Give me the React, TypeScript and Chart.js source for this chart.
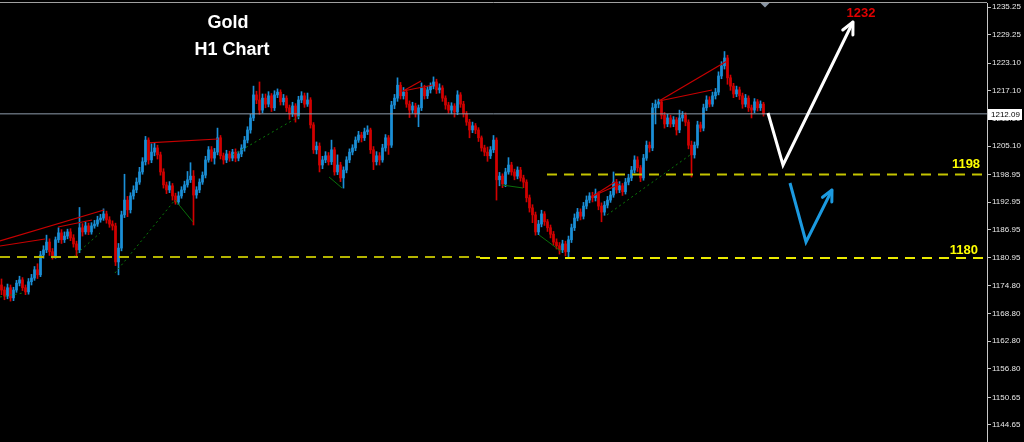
import React, { useEffect, useRef } from "react";
import { Chart, registerables } from "chart.js";

Chart.register(...registerables);

// ---------- Data (Gold, H1 candles) ----------
const FIRST_OPEN = 1175.0;

const CLOSE = [
  1173.9, 1172.6, 1174.4, 1172.2, 1173.9, 1175.4, 1176.1, 1174.4, 1173.5, 1175.7,
  1176.5, 1178.3, 1177.2, 1181.5, 1182.6, 1184.3, 1182.2, 1181.3, 1184.8, 1186.3,
  1184.8, 1185.6, 1186.5, 1185.2, 1183.9, 1182.6, 1187.4, 1186.5, 1187.8, 1186.5,
  1187.8, 1188.2, 1189.1, 1189.5, 1190.4, 1189.1, 1188.2, 1187.8, 1180.0, 1183.0,
  1190.2, 1193.4, 1191.3, 1194.3, 1195.6, 1197.3, 1199.5, 1201.7, 1206.4, 1202.1,
  1203.8, 1204.7, 1203.2, 1199.5, 1196.7, 1195.6, 1196.5, 1194.3, 1193.0, 1194.3,
  1195.6, 1196.7, 1197.8, 1198.6, 1194.5, 1195.6, 1197.3, 1198.8, 1202.1, 1204.3,
  1202.5, 1203.8, 1206.9, 1203.0, 1202.1, 1203.4, 1202.5, 1203.8, 1202.5, 1203.4,
  1204.7, 1206.4, 1208.6, 1211.2, 1216.2, 1215.1, 1212.9, 1215.5, 1214.2, 1216.0,
  1213.4, 1216.2, 1216.8, 1214.7, 1215.5, 1213.4, 1212.1, 1213.8, 1211.6, 1215.1,
  1216.0, 1214.2, 1215.1, 1209.7, 1204.3, 1205.1, 1201.0, 1202.1, 1203.0, 1201.7,
  1204.3, 1199.5, 1201.0, 1198.2, 1199.9, 1202.1, 1203.8, 1204.7, 1206.4, 1207.5,
  1206.9, 1208.2, 1208.6, 1204.3, 1201.7, 1203.0, 1202.1, 1204.7, 1206.9, 1205.3,
  1214.0, 1215.5, 1218.3, 1216.0, 1216.8, 1214.2, 1212.9, 1213.8, 1212.1, 1213.4,
  1217.7, 1216.0, 1217.3, 1218.1, 1219.0, 1217.3, 1217.7, 1215.5, 1214.0, 1212.9,
  1213.8, 1212.5, 1216.2, 1214.2, 1212.1, 1210.3, 1208.6, 1209.5, 1208.6, 1206.9,
  1204.7, 1203.8, 1203.0, 1204.3, 1206.4, 1197.8, 1198.6, 1196.9, 1199.5, 1201.0,
  1199.5, 1198.6, 1199.9, 1198.2, 1197.3, 1193.9, 1191.7, 1190.2, 1186.5, 1188.2,
  1190.4, 1188.7, 1187.4, 1186.0, 1184.3, 1183.5, 1182.6, 1183.9, 1182.2, 1184.8,
  1187.4, 1189.5, 1190.8, 1189.9, 1192.1, 1193.4, 1194.3, 1193.9, 1194.7, 1192.1,
  1190.8, 1192.3, 1193.4, 1194.5, 1197.3, 1195.6, 1196.5, 1195.2, 1197.3, 1198.2,
  1199.9, 1202.1, 1200.4, 1198.2, 1202.5, 1205.3, 1204.7, 1213.4, 1214.2, 1214.7,
  1211.8, 1209.9, 1211.2, 1209.9, 1210.8, 1208.6, 1211.2, 1211.8, 1210.3, 1205.3,
  1203.2, 1205.3, 1209.7, 1209.0, 1213.4, 1215.1, 1214.2, 1216.0, 1216.8, 1220.3,
  1222.5, 1224.2, 1219.9, 1218.1, 1216.4, 1217.3, 1216.0, 1214.2, 1215.5, 1213.4,
  1212.9, 1214.7, 1213.4, 1214.2, 1212.09,
];

const HIGH = [
  1176.3, 1174.6, 1175.2, 1175.0, 1174.5, 1176.0, 1176.9, 1176.6, 1175.0, 1176.4,
  1177.3, 1179.0, 1179.6, 1182.3, 1183.5, 1185.8, 1185.0, 1182.9, 1185.4, 1187.4,
  1187.0, 1186.5, 1187.1, 1187.2, 1185.9, 1184.5, 1191.8, 1188.3, 1188.6, 1188.4,
  1188.5, 1189.0, 1189.9, 1190.3, 1191.5, 1191.0, 1189.8, 1188.9, 1188.4, 1184.0,
  1191.0, 1199.0, 1194.2, 1195.0, 1196.5, 1198.2, 1200.5, 1202.6, 1207.2, 1206.9,
  1205.6, 1205.9, 1205.3, 1203.8, 1200.2, 1197.3, 1197.4, 1197.0, 1194.9, 1195.2,
  1196.3, 1197.5, 1199.6, 1201.5, 1199.8, 1196.3, 1198.0, 1199.5, 1202.9, 1205.0,
  1205.0, 1204.6, 1209.0, 1207.4, 1203.6, 1204.2, 1204.0, 1204.4, 1204.5, 1204.0,
  1205.4, 1207.2, 1209.3, 1212.0, 1218.1, 1217.0, 1219.0, 1216.4, 1216.4, 1216.9,
  1216.5, 1217.1, 1217.5, 1217.3, 1216.3, 1216.0, 1214.0, 1214.6, 1214.3, 1215.9,
  1216.9, 1216.6, 1216.6, 1215.6, 1210.2, 1206.0, 1205.8, 1202.9, 1203.9, 1203.7,
  1206.4, 1204.8, 1203.2, 1201.6, 1200.6, 1202.8, 1204.5, 1205.4, 1207.1, 1208.3,
  1208.1, 1209.0, 1209.5, 1209.0, 1205.0, 1203.9, 1203.7, 1205.5, 1207.6, 1207.4,
  1214.8, 1216.3, 1219.9, 1218.9, 1217.8, 1217.4, 1214.9, 1214.6, 1214.4, 1214.0,
  1218.8, 1218.3, 1218.0, 1218.8, 1220.1, 1219.6, 1218.6, 1218.2, 1216.0, 1214.6,
  1214.5, 1214.3, 1217.1, 1216.7, 1214.8, 1212.6, 1210.9, 1210.3, 1210.0, 1209.1,
  1207.3, 1205.3, 1204.9, 1205.0, 1207.4, 1206.9, 1199.4, 1199.1, 1200.3, 1202.6,
  1201.6, 1200.1, 1200.6, 1200.5, 1198.8, 1197.8, 1194.5, 1192.4, 1190.8, 1189.0,
  1191.2, 1190.9, 1189.2, 1188.0, 1186.6, 1185.0, 1184.2, 1184.7, 1184.5, 1185.6,
  1188.2, 1190.4, 1191.6, 1191.5, 1192.9, 1194.3, 1195.0, 1195.1, 1195.8, 1195.2,
  1192.8, 1193.1, 1194.2, 1195.3, 1199.5, 1197.9, 1197.4, 1197.0, 1198.1, 1199.0,
  1200.7, 1203.0, 1202.8, 1200.9, 1203.3, 1206.2, 1206.0, 1214.4, 1215.1, 1215.3,
  1215.2, 1212.4, 1212.0, 1211.8, 1211.5, 1211.3, 1212.9, 1212.6, 1212.3, 1210.8,
  1206.2, 1206.0, 1210.5, 1210.3, 1214.2, 1216.0, 1215.8, 1216.8, 1217.6, 1221.2,
  1223.4, 1225.6, 1224.8, 1220.5, 1218.7, 1218.1, 1217.9, 1216.6, 1216.3, 1216.0,
  1214.0, 1215.4, 1215.2, 1214.9, 1214.6,
];

const LOW = [
  1172.9, 1171.8, 1172.0, 1171.5, 1171.6, 1173.4, 1174.8, 1173.8, 1172.9, 1173.0,
  1175.0, 1176.0, 1176.4, 1176.8, 1180.8, 1182.0, 1181.4, 1180.6, 1180.8, 1184.2,
  1184.0, 1184.2, 1185.0, 1184.6, 1183.2, 1181.0, 1182.0, 1185.6, 1186.0, 1185.9,
  1186.0, 1187.3, 1187.7, 1188.6, 1189.0, 1188.4, 1187.5, 1186.9, 1179.2, 1177.2,
  1182.4, 1189.6, 1189.8, 1190.6, 1193.6, 1195.0, 1196.8, 1199.0, 1201.0, 1201.2,
  1201.5, 1203.0, 1202.3, 1198.8, 1196.0, 1194.8, 1195.0, 1193.4, 1192.5, 1192.4,
  1193.8, 1195.0, 1196.2, 1197.2, 1188.0, 1193.8, 1195.0, 1196.8, 1198.2, 1201.6,
  1201.8, 1201.2, 1203.2, 1202.3, 1201.2, 1201.5, 1201.8, 1201.9, 1201.7, 1201.9,
  1202.8, 1204.0, 1205.8, 1207.9, 1210.6, 1214.3, 1212.0, 1212.3, 1213.4, 1213.6,
  1212.6, 1212.8, 1215.6, 1214.0, 1214.0, 1212.6, 1210.9, 1211.5, 1210.3, 1211.0,
  1214.5, 1213.5, 1213.7, 1209.0, 1203.5, 1203.4, 1199.5, 1200.2, 1201.5, 1201.0,
  1201.1, 1198.8, 1198.9, 1197.4, 1196.0, 1199.3, 1201.5, 1203.2, 1204.1, 1205.9,
  1206.0, 1206.3, 1207.6, 1203.5, 1200.0, 1201.0, 1201.0, 1201.6, 1204.0, 1203.3,
  1204.8, 1213.2, 1214.8, 1215.3, 1215.3, 1213.5, 1211.3, 1212.2, 1211.4, 1209.3,
  1212.8, 1215.3, 1215.4, 1216.6, 1217.5, 1216.5, 1216.6, 1214.8, 1213.1, 1212.2,
  1212.1, 1211.4, 1211.9, 1213.5, 1211.4, 1209.6, 1206.9, 1208.0, 1207.8, 1206.1,
  1204.0, 1203.0, 1201.8, 1202.4, 1203.7, 1193.4, 1196.5, 1196.1, 1196.3, 1199.0,
  1198.8, 1197.8, 1198.0, 1197.5, 1196.1, 1193.0, 1190.8, 1188.5, 1185.8, 1185.9,
  1187.6, 1187.9, 1186.6, 1185.2, 1183.6, 1182.8, 1181.7, 1182.0, 1181.3, 1180.9,
  1184.2, 1186.8, 1188.9, 1189.1, 1189.3, 1191.5, 1192.8, 1193.0, 1193.2, 1191.3,
  1188.7, 1190.1, 1191.7, 1192.9, 1194.0, 1194.9, 1195.0, 1194.4, 1194.7, 1196.7,
  1197.6, 1199.3, 1199.6, 1197.4, 1197.7, 1202.0, 1203.8, 1204.1, 1209.9, 1213.4,
  1211.0, 1209.0, 1209.3, 1209.2, 1209.3, 1207.5, 1208.0, 1210.5, 1209.5, 1204.5,
  1198.4, 1202.5, 1204.7, 1208.2, 1208.4, 1212.8, 1213.6, 1213.7, 1215.3, 1216.2,
  1219.7, 1221.8, 1218.5, 1217.2, 1215.6, 1215.8, 1215.2, 1213.3, 1213.6, 1212.6,
  1211.2, 1212.3, 1212.7, 1212.8, 1211.6,
];

const Y_TICKS = [
  1235.25, 1229.25, 1223.1, 1217.1, 1211.1, 1205.1, 1198.95, 1192.95,
  1186.95, 1180.95, 1174.8, 1168.8, 1162.8, 1156.8, 1150.65, 1144.65,
];

const LAST_PRICE = 1212.09;
const LEVEL_UPPER = 1198.95;
const LEVEL_LOWER_OLD = 1181.05;
const LEVEL_LOWER_NEW = 1180.85;
const TARGET_LABEL = "1232";
const LEVEL_UPPER_LABEL = "1198";
const LEVEL_LOWER_LABEL = "1180";

// trend lines: [index, price] pairs
const RED_LINES = [
  [[-0.5, 1184.54], [34.17, 1191.25]],
  [[-0.5, 1183.45], [14.5, 1184.97]],
  [[18.83, 1187.57], [30.17, 1189.09]],
  [[48.83, 1205.78], [72.17, 1206.64]],
  [[133.83, 1217.05], [139.83, 1219.21]],
  [[133.83, 1217.05], [143.83, 1218.35]],
  [[219.17, 1214.88], [241.83, 1223.55]],
  [[219.17, 1214.88], [236.83, 1217.26]],
  [[197.17, 1194.29], [204.5, 1197.32]],
  [[197.17, 1194.29], [206.17, 1196.89]],
];
const GREEN_DOTTED = [
  [[-0.5, 1172.4], [7.17, 1173.27]],
  [[23.83, 1181.07], [32.83, 1186.27]],
  [[37.83, 1177.6], [57.83, 1193.42]],
  [[77.17, 1203.18], [99.5, 1211.63]],
  [[201.83, 1190.17], [229.5, 1203.17]],
];
const GREEN_SOLID = [
  [[57.83, 1193.42], [63.83, 1188.65]],
  [[109.17, 1198.41], [113.5, 1196.02]],
  [[166.83, 1196.67], [173.83, 1196.02]],
  [[179.17, 1185.84], [186.83, 1182.15]],
];
const WHITE_ARROW = [[255.5, 1212.28], [260.5, 1201.01], [283.83, 1232.0]];
const BLUE_ARROW = [[262.83, 1197.1], [268.17, 1184.32], [276.83, 1195.59]];

const X_MIN = -0.5;
const X_MAX = 328.5;
const Y_MIN = 1140.965;
const Y_MAX = 1236.117;

const BULL = "#1b8fd6";
const BEAR = "#d20000";
const FONT = "'Liberation Sans', Arial, sans-serif";

const overlay = {
  id: "overlay",
  beforeDraw(chart: any) {
    const { ctx, width, height } = chart;
    ctx.save();
    ctx.fillStyle = "#000";
    ctx.fillRect(0, 0, width, height);
    ctx.restore();
  },
  afterDatasetsDraw(chart: any) {
    const ctx = chart.ctx;
    chart.data.datasets.forEach((ds: any, di: number) => {
      if (!ds.arrowHead) return;
      const pts = chart.getDatasetMeta(di).data;
      const a = pts[pts.length - 2];
      const b = pts[pts.length - 1];
      const ang = Math.atan2(b.y - a.y, b.x - a.x);
      const L = ds.arrowHead;
      ctx.save();
      ctx.strokeStyle = ds.borderColor;
      ctx.lineWidth = ds.borderWidth;
      ctx.lineCap = "round";
      ctx.beginPath();
      for (const s of [-1, 1]) {
        const t = ang + Math.PI + s * 0.45;
        ctx.moveTo(b.x, b.y);
        ctx.lineTo(b.x + L * Math.cos(t), b.y + L * Math.sin(t));
      }
      ctx.stroke();
      ctx.restore();
    });
  },
  afterDraw(chart: any) {
    const { ctx, chartArea } = chart;
    const xs = chart.scales.x;
    const ys = chart.scales.y;
    ctx.save();
    // top border
    ctx.strokeStyle = "#a0a0a0";
    ctx.lineWidth = 1;
    ctx.beginPath();
    ctx.moveTo(0, chartArea.top - 0.5);
    ctx.lineTo(chartArea.right, chartArea.top - 0.5);
    ctx.stroke();
    // shift marker
    const mx = xs.getPixelForValue(254.5);
    ctx.fillStyle = "#8a96a4";
    ctx.beginPath();
    ctx.moveTo(mx - 4.5, chartArea.top);
    ctx.lineTo(mx + 4.5, chartArea.top);
    ctx.lineTo(mx, chartArea.top + 4.5);
    ctx.closePath();
    ctx.fill();

    ctx.textAlign = "center";
    ctx.textBaseline = "middle";
    // titles
    ctx.fillStyle = "#ffffff";
    ctx.font = `bold 18px ${FONT}`;
    ctx.fillText("Gold", xs.getPixelForValue(75.5), ys.getPixelForValue(1231.7));
    ctx.fillText("H1 Chart", xs.getPixelForValue(76.8), ys.getPixelForValue(1225.9));
    // target
    ctx.fillStyle = "#e00000";
    ctx.font = `bold 13px ${FONT}`;
    ctx.fillText(TARGET_LABEL, xs.getPixelForValue(286.5), ys.getPixelForValue(1233.95));
    // levels
    ctx.fillStyle = "#ffff00";
    ctx.fillText(LEVEL_UPPER_LABEL, xs.getPixelForValue(321.5), ys.getPixelForValue(1201.07));
    ctx.fillText(LEVEL_LOWER_LABEL, xs.getPixelForValue(320.8), ys.getPixelForValue(1182.58));

    // last price box
    const py = Math.round(ys.getPixelForValue(LAST_PRICE));
    ctx.fillStyle = "#ffffff";
    ctx.fillRect(chartArea.right + 1, py - 5, 34, 11);
    ctx.fillStyle = "#000000";
    ctx.font = `8px ${FONT}`;
    ctx.textAlign = "left";
    ctx.fillText(LAST_PRICE.toFixed(2), chartArea.right + 4, py + 0.5);
    ctx.restore();
  },
};

function lineSet(pts: number[][], color: string, width: number, dash: number[], extra: any = {}) {
  return {
    type: "line",
    data: pts.map(([x, y]) => ({ x, y })),
    borderColor: color,
    borderWidth: width,
    borderDash: dash,
    pointRadius: 0,
    fill: false,
    tension: 0,
    order: 1,
    ...extra,
  };
}

export default function App() {
  const ref = useRef<HTMLCanvasElement>(null);

  useEffect(() => {
    document.body.style.margin = "0";
    document.body.style.background = "#000";
    const canvas = ref.current!;
    const opens = CLOSE.map((_, i) => (i === 0 ? FIRST_OPEN : CLOSE[i - 1]));
    const colors = CLOSE.map((c, i) => (c >= opens[i] ? BULL : BEAR));

    const datasets: any[] = [
      {
        type: "bar",
        data: CLOSE.map((_, i) => ({ x: i, y: [LOW[i], HIGH[i]] })),
        backgroundColor: colors,
        borderWidth: 0,
        barThickness: 1,
        grouped: false,
        order: 10,
      },
      {
        type: "bar",
        data: CLOSE.map((c, i) => ({ x: i, y: [opens[i], c] })),
        backgroundColor: colors,
        borderWidth: 0,
        barThickness: 2,
        minBarLength: 1,
        grouped: false,
        order: 9,
      },
      lineSet([[X_MIN, LAST_PRICE], [X_MAX, LAST_PRICE]], "#8e9cab", 1, []),
      lineSet([[181.83, LEVEL_UPPER], [X_MAX, LEVEL_UPPER]], "#c4c400", 2, [10, 7]),
      lineSet([[X_MIN, LEVEL_LOWER_OLD], [159.5, LEVEL_LOWER_OLD]], "#b4b400", 2, [10, 7]),
      lineSet([[159.5, LEVEL_LOWER_NEW], [X_MAX, LEVEL_LOWER_NEW]], "#eaea00", 2, [10, 7]),
      ...RED_LINES.map((p) => lineSet(p, "#c80000", 1.2, [])),
      ...GREEN_DOTTED.map((p) => lineSet(p, "#0a7a0a", 1, [2, 3])),
      ...GREEN_SOLID.map((p) => lineSet(p, "#0a6e0a", 1, [])),
      lineSet(WHITE_ARROW, "#ffffff", 3, [], { arrowHead: 13, order: 0 }),
      lineSet(BLUE_ARROW, "#1c9ae0", 3, [], { arrowHead: 12, order: 0 }),
    ];

    const chart = new Chart(canvas, {
      type: "bar",
      data: { datasets },
      options: {
        responsive: false,
        animation: false,
        devicePixelRatio: 1,
        events: [],
        layout: { padding: { top: 3, left: 0, right: 0, bottom: 0 } },
        plugins: {
          legend: { display: false },
          tooltip: { enabled: false },
          title: { display: false },
        },
        scales: {
          x: {
            type: "linear",
            display: false,
            min: X_MIN,
            max: X_MAX,
            offset: false,
            grid: { display: false },
          },
          y: {
            type: "linear",
            position: "right",
            min: Y_MIN,
            max: Y_MAX,
            beginAtZero: false,
            afterBuildTicks: (s: any) => {
              s.ticks = Y_TICKS.map((v) => ({ value: v }));
            },
            afterFit: (s: any) => {
              s.width = 37;
              s.paddingTop = 0;
              s.paddingBottom = 0;
            },
            ticks: {
              color: "#e8e8e8",
              font: { family: FONT, size: 8 },
              padding: 1,
              autoSkip: false,
              callback: (v: any) => Number(v).toFixed(2),
            },
            grid: {
              display: true,
              drawOnChartArea: false,
              drawTicks: true,
              tickLength: 4,
              color: "#c8c8c8",
            },
            border: { display: true, color: "#c8c8c8", width: 1 },
          },
        },
      } as any,
      plugins: [overlay],
    } as any);

    return () => chart.destroy();
  }, []);

  return (
    <canvas
      ref={ref}
      width={1024}
      height={442}
      style={{ display: "block", width: 1024, height: 442 }}
    />
  );
}
